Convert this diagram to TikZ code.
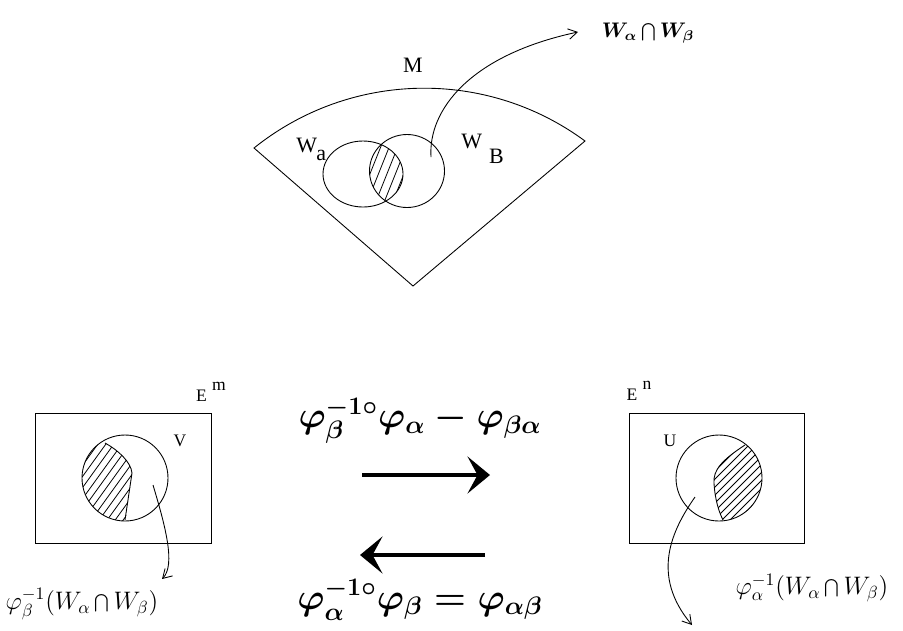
\documentclass[tikz,border=0pt]{standalone}
\usepackage{fontspec}
\setmainfont{Liberation Serif}
\usetikzlibrary{arrows.meta}
\begin{document}
\begin{tikzpicture}[x=0.02cm,y=-0.02cm,line width=0.5pt,
  lbl/.style={inner sep=0pt,font=\fontsize{12.5}{14}\selectfont},
  smalllbl/.style={inner sep=0pt,font=\fontsize{10}{12}\selectfont},
  maplbl/.style={inner sep=0pt,font=\fontsize{14.5}{17}\selectfont},
  formula/.style={inner sep=0pt,font=\fontsize{21.5}{24}\selectfont\boldmath},
  hatchline/.style={line width=0.45pt},
  thinarrow/.style={line width=0.5pt,-{Straight Barb[length=5pt,width=6pt]}},
  bigarrow/.style={line width=2.2pt,-{Stealth[length=0.45cm,width=0.74cm,inset=0.2cm]}}]
\useasboundingbox (0,0) rectangle (903,630);

% ---------- top: manifold M ----------
\draw (254,148) .. controls (350,71) and (486,68) .. (585,141) -- (413,286) -- cycle;
\draw (363,174) ellipse [x radius=40, y radius=33];
\draw (407,171) ellipse [x radius=37.5, y radius=36.5];
\begin{scope}
  \clip (363,174) ellipse [x radius=40, y radius=33];
  \clip (407,171) ellipse [x radius=37.5, y radius=36.5];
  \foreach \i in {347.5,356,...,400} \draw[hatchline] (\i,230) -- (\i+40,130);
\end{scope}
\node[lbl] (M) at (413,65) {M};
\node[lbl,anchor=base west] (Wa) at (296,152) {W\kern-0.5pt\raisebox{-5pt}{a}};
\node[lbl,anchor=base west] (WB) at (461,148) {W\kern4pt\raisebox{-9pt}{B}};
\node[inner sep=1pt,font=\fontsize{12}{14}\selectfont\boldmath] (WaWb) at (648,33) {$W_{\alpha}\bigcap W_{\beta}$};
\coordinate (ints) at (431,157);
\coordinate (inte) at (578,32);
\draw[thinarrow] (ints) .. controls (428,110) and (470,55) .. (inte);

% ---------- bottom left: E^m ----------
\draw (35,413) rectangle (211,543);
\node[smalllbl] (Em) at (211,392) {E\hspace{3pt}\raisebox{6pt}{m}};
\draw (125,478) circle [radius=43];
\begin{scope}
  \clip (125,478) circle [radius=43];
  \clip (95,425) -- (105,443) .. controls (118,450) and (131,462) .. (132,473) -- (125,525) -- (70,525) -- (70,425) -- cycle;
  \foreach \i in {20,28,...,160} \draw[hatchline] (\i,530) -- (\i+72,430);
\end{scope}
\draw (105,443) .. controls (118,450) and (131,462) .. (132,473) -- (125,520);
\node[smalllbl] (V) at (180,441) {V};
\coordinate (vs) at (153,485);
\coordinate (ve) at (162,579);
\draw[thinarrow] (vs) .. controls (165,525) and (176,565) .. (ve);
\node[maplbl] (Lv) at (82,604) {$\varphi_{\beta}^{-1}(W_{\alpha}\bigcap W_{\beta})$};

% ---------- bottom right: E^n ----------
\draw (629,413) rectangle (804,543);
\node[smalllbl] (En) at (639,391) {E\hspace{3pt}\raisebox{6pt}{n}};
\draw (719,478) circle [radius=43];
\begin{scope}
  \clip (719,478) circle [radius=43];
  \clip (745,430) -- (745,445) .. controls (722,460) and (713,470) .. (714,483) .. controls (715,500) and (719,512) .. (723,520) -- (723,530) -- (780,530) -- (780,430) -- cycle;
  \foreach \i in {600,608,...,780} \draw[hatchline] (\i,530) -- (\i+100,430);
\end{scope}
\draw (745,445) .. controls (722,460) and (713,470) .. (714,483) .. controls (715,500) and (719,512) .. (723,520);
\node[smalllbl] (U) at (670,441) {U};
\coordinate (us) at (695,497);
\coordinate (ue) at (692,625);
\draw[thinarrow] (us) .. controls (672,530) and (650,575) .. (ue);
\node[maplbl] (Lu) at (812,588) {$\varphi_{\alpha}^{-1}(W_{\alpha}\bigcap W_{\beta})$};

% ---------- middle: transition maps ----------
\node[formula] (f1) at (420,421) {$\varphi_{\beta}^{-1\circ}\varphi_{\alpha}-\varphi_{\beta\alpha}$};
\node[formula] (f2) at (420,600) {$\varphi_{\alpha}^{-1\circ}\varphi_{\beta}=\varphi_{\alpha\beta}$};
\coordinate (r1) at (362,475);
\coordinate (r2) at (490,475);
\coordinate (l1) at (485,555);
\coordinate (l2) at (360,555);
\draw[bigarrow] (r1) -- (r2);
\draw[bigarrow] (l1) -- (l2);
\end{tikzpicture}
\end{document}
